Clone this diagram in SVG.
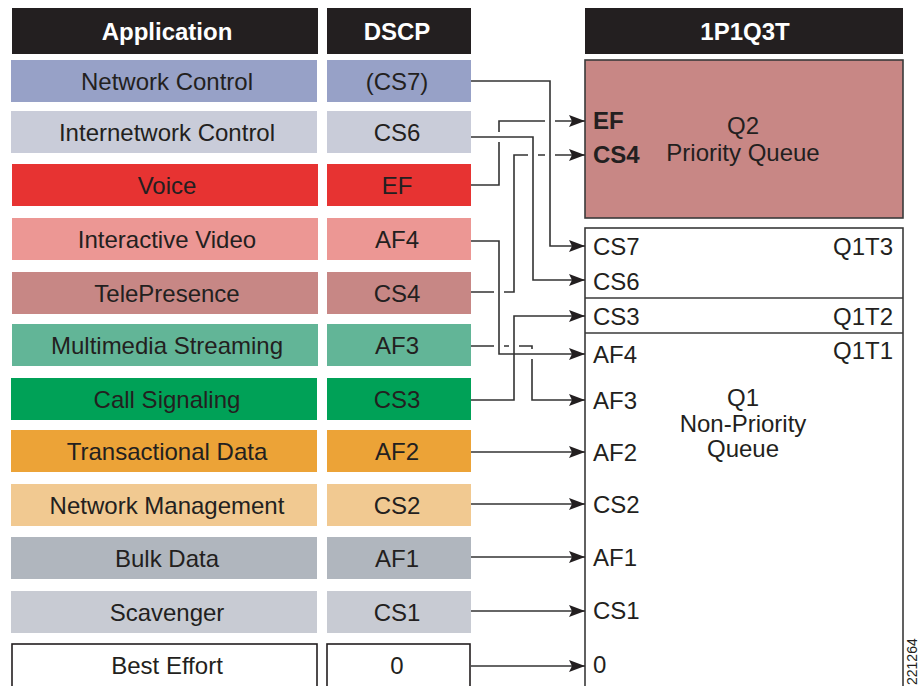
<svg xmlns="http://www.w3.org/2000/svg" width="919" height="686" viewBox="0 0 919 686">
<style>
text{font-family:"Liberation Sans",Arial,Helvetica,sans-serif;font-size:24px;fill:#231f20}
.c{text-anchor:middle}
.hd{fill:#231f20}
.ht{fill:#ffffff;font-weight:bold;text-anchor:middle}
.b{font-weight:bold}
.r{text-anchor:end}
.ln{fill:none;stroke:#333333;stroke-width:1.6}
.box{stroke:#3a3a3a;stroke-width:1.6}
</style>
<defs>
<marker id="ah" viewBox="0 0 16 12" refX="16" refY="6" markerWidth="16" markerHeight="12" markerUnits="userSpaceOnUse" orient="auto">
<path d="M0,0 L16,6 L0,12 L3,6 Z" fill="#231f20"/>
</marker>
</defs>
<rect width="919" height="686" fill="#ffffff"/>

<g id="header-application"><rect class="hd" x="12" y="8" width="306" height="46"/><text class="ht" x="167" y="40">Application</text></g>
<g id="header-dscp"><rect class="hd" x="327" y="8" width="144" height="46"/><text class="ht" x="397" y="40">DSCP</text></g>
<g id="header-1p1q3t"><rect class="hd" x="585" y="8" width="318" height="46"/><text class="ht" x="745" y="40">1P1Q3T</text></g>

<g id="row-network-control"><rect x="11" y="60" width="306" height="42" fill="#97a1c7"/><text class="c" x="167" y="90">Network Control</text><rect x="327" y="60" width="144" height="42" fill="#97a1c7"/><text class="c" x="397" y="90">(CS7)</text></g>
<g id="row-internetwork-control"><rect x="11" y="111" width="306" height="42" fill="#c9ccd9"/><text class="c" x="167" y="141">Internetwork Control</text><rect x="327" y="111" width="144" height="42" fill="#c9ccd9"/><text class="c" x="397" y="141">CS6</text></g>
<g id="row-voice"><rect x="12" y="164" width="306" height="42" fill="#e73332"/><text class="c" x="167" y="194">Voice</text><rect x="327" y="164" width="144" height="42" fill="#e73332"/><text class="c" x="397" y="194">EF</text></g>
<g id="row-interactive-video"><rect x="12" y="218" width="306" height="42" fill="#ec9794"/><text class="c" x="167" y="248">Interactive Video</text><rect x="327" y="218" width="144" height="42" fill="#ec9794"/><text class="c" x="397" y="248">AF4</text></g>
<g id="row-telepresence"><rect x="12" y="272" width="306" height="42" fill="#c78785"/><text class="c" x="167" y="302">TelePresence</text><rect x="327" y="272" width="144" height="42" fill="#c78785"/><text class="c" x="397" y="302">CS4</text></g>
<g id="row-multimedia-streaming"><rect x="12" y="324" width="306" height="42" fill="#62b597"/><text class="c" x="167" y="354">Multimedia Streaming</text><rect x="327" y="324" width="144" height="42" fill="#62b597"/><text class="c" x="397" y="354">AF3</text></g>
<g id="row-call-signaling"><rect x="11" y="378" width="306" height="42" fill="#00a157"/><text class="c" x="167" y="408">Call Signaling</text><rect x="327" y="378" width="144" height="42" fill="#00a157"/><text class="c" x="397" y="408">CS3</text></g>
<g id="row-transactional-data"><rect x="11" y="430" width="306" height="42" fill="#eca337"/><text class="c" x="167" y="460">Transactional Data</text><rect x="327" y="430" width="144" height="42" fill="#eca337"/><text class="c" x="397" y="460">AF2</text></g>
<g id="row-network-management"><rect x="11" y="484" width="306" height="42" fill="#f1c991"/><text class="c" x="167" y="514">Network Management</text><rect x="327" y="484" width="144" height="42" fill="#f1c991"/><text class="c" x="397" y="514">CS2</text></g>
<g id="row-bulk-data"><rect x="11" y="537" width="306" height="42" fill="#b0b6be"/><text class="c" x="167" y="567">Bulk Data</text><rect x="327" y="537" width="144" height="42" fill="#b0b6be"/><text class="c" x="397" y="567">AF1</text></g>
<g id="row-scavenger"><rect x="11" y="591" width="306" height="42" fill="#c8cbd3"/><text class="c" x="167" y="621">Scavenger</text><rect x="327" y="591" width="144" height="42" fill="#c8cbd3"/><text class="c" x="397" y="621">CS1</text></g>
<g id="row-best-effort"><rect x="12" y="644" width="305" height="60" fill="#ffffff" stroke="#231f20" stroke-width="1.6"/><text class="c" x="167" y="674">Best Effort</text><rect x="327" y="644" width="143" height="60" fill="#ffffff" stroke="#231f20" stroke-width="1.6"/><text class="c" x="397" y="674">0</text></g>

<g id="q2-priority-queue">
<rect class="box" x="585" y="60" width="318" height="158" fill="#c88785"/>
<text class="b" x="593" y="129">EF</text>
<text class="b" x="593" y="163">CS4</text>
<text class="c" x="743" y="134">Q2</text>
<text class="c" x="743" y="161">Priority Queue</text>
</g>

<g id="q1-non-priority-queue">
<rect class="box" x="585" y="228" width="318" height="480" fill="#ffffff"/>
<line class="box" x1="585" y1="298" x2="903" y2="298"/>
<line class="box" x1="585" y1="333" x2="903" y2="333"/>
<text x="593" y="255">CS7</text>
<text x="593" y="290">CS6</text>
<text x="593" y="325">CS3</text>
<text x="593" y="363">AF4</text>
<text x="593" y="409">AF3</text>
<text x="593" y="461">AF2</text>
<text x="593" y="513">CS2</text>
<text x="593" y="566">AF1</text>
<text x="593" y="619">CS1</text>
<text x="593" y="673">0</text>
<text class="r" x="893" y="255">Q1T3</text>
<text class="r" x="893" y="325">Q1T2</text>
<text class="r" x="893" y="359">Q1T1</text>
<text class="c" x="743" y="406">Q1</text>
<text class="c" x="743" y="432">Non-Priority</text>
<text class="c" x="743" y="457">Queue</text>
</g>

<g id="connectors">
<path class="ln" marker-end="url(#ah)" d="M471,81 H550 V246 H585"/>
<path class="ln" marker-end="url(#ah)" d="M471,137 H533 V280 H585"/>
<path class="ln" marker-end="url(#ah)" d="M471,185 H499 V142 M499,132 V121 H545 M555,121 H585"/>
<path class="ln" marker-end="url(#ah)" d="M471,292 H494 M504,292 H514 V155 H528 M538,155 H545 M555,155 H585"/>
<path class="ln" marker-end="url(#ah)" d="M471,241 H499 V354 H585"/>
<path class="ln" marker-end="url(#ah)" d="M471,346 H494 M504,346 H509 M519,346 H532 V349 M532,359 V400 H585"/>
<path class="ln" marker-end="url(#ah)" d="M471,400 H514 V316 H585"/>
<path class="ln" marker-end="url(#ah)" d="M471,452 H585"/>
<path class="ln" marker-end="url(#ah)" d="M471,504 H585"/>
<path class="ln" marker-end="url(#ah)" d="M471,557 H585"/>
<path class="ln" marker-end="url(#ah)" d="M471,611 H585"/>
<path class="ln" marker-end="url(#ah)" d="M471,666 H585"/>
</g>

<text x="917" y="685" transform="rotate(-90 917 685)" style="font-size:14px">221264</text>
</svg>
